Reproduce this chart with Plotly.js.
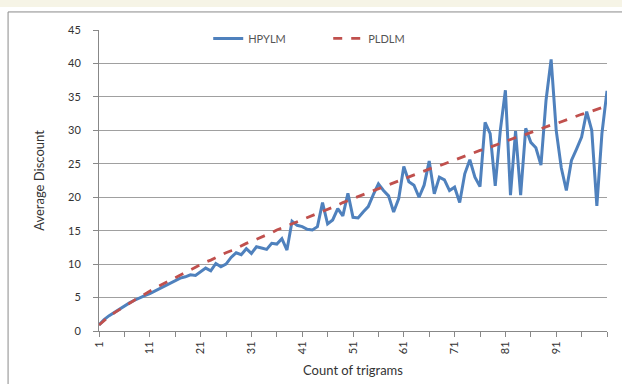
<!DOCTYPE html>
<html><head><meta charset="utf-8">
<script src="https://cdn.plot.ly/plotly-3.0.1.min.js"></script>
<style>html,body{margin:0;padding:0;background:#fff;}#chart{width:622px;height:384px;}</style>
</head><body><div id="chart"></div>
<script>
// Count of trigrams (categories 1..101)
const counts = [];
for (let i = 1; i <= 101; i++) counts.push(i);

const hpylm = [
 0.9,1.7,2.3,2.8,3.3,3.8,4.2,4.6,5.0,5.3,
 5.6,6.0,6.4,6.7,7.1,7.5,7.9,8.1,8.4,8.3,
 8.9,9.4,9.0,10.1,9.6,10.0,11.0,11.7,11.4,12.3,
 11.6,12.6,12.4,12.2,13.1,13.0,13.8,12.1,16.4,15.8,
 15.6,15.2,15.1,15.6,19.2,16.0,16.6,18.3,17.2,20.6,
 17.0,16.9,17.8,18.6,20.4,22.0,21.0,20.2,17.8,19.8,
 24.6,22.3,21.8,20.0,21.8,25.4,20.5,23.0,22.6,21.0,
 21.5,19.2,23.5,25.6,23.0,21.6,31.2,29.5,21.7,30.0,
 36.0,20.3,29.9,20.3,30.3,28.2,27.4,24.8,34.5,40.6,
 30.0,24.4,21.0,25.5,27.2,29.0,32.8,30.0,18.7,29.5,
 35.9
];

const pldlm = [
 0.9,1.6,2.2,2.7,3.2,3.7,4.2,4.7,5.1,5.5,
 6.0,6.4,6.8,7.2,7.6,8.0,8.4,8.8,9.1,9.5,
 9.9,10.3,10.6,11.0,11.3,11.7,12.0,12.4,12.7,13.1,
 13.4,13.7,14.1,14.4,14.7,15.1,15.4,15.7,16.0,16.4,
 16.7,17.0,17.3,17.6,17.9,18.2,18.5,18.8,19.2,19.5,
 19.8,20.1,20.4,20.7,21.0,21.3,21.6,21.8,22.1,22.4,
 22.7,23.0,23.3,23.6,23.9,24.2,24.5,24.7,25.0,25.3,
 25.6,25.9,26.1,26.4,26.7,27.0,27.2,27.5,27.8,28.1,
 28.3,28.6,28.9,29.2,29.4,29.7,30.0,30.2,30.5,30.8,
 31.0,31.3,31.6,31.8,32.1,32.4,32.6,32.9,33.1,33.4,
 33.6
];

const xTickVals = [1,11,21,31,41,51,61,71,81,91];
const xTickText = ["1","11","21","31","41","51","61","71","81","91"];
const yTickVals = [0,5,10,15,20,25,30,35,40,45];

const font = "Lato, 'Open Sans', 'DejaVu Sans', sans-serif";

const traces = [
 {x: counts, y: hpylm, name: "HPYLM", type: "scatter", mode: "lines",
  line: {color: "#4f81bd", width: 3}},
 {x: counts, y: pldlm, name: "PLDLM", type: "scatter", mode: "lines",
  line: {color: "#c0504d", width: 2.8, dash: "dash"}}
];

const layout = {
 width: 622, height: 384,
 margin: {l: 99, r: 15, t: 30, b: 53},
 paper_bgcolor: "#ffffff", plot_bgcolor: "#ffffff",
 font: {family: font, size: 11, color: "#333"},
 showlegend: true,
 legend: {orientation: "h", x: 0.215, y: 0.972, xanchor: "left", yanchor: "middle",
   entrywidth: 75, entrywidthmode: "pixels",
   bgcolor: "rgba(0,0,0,0)", font: {size: 11, color: "#555"}, tracegroupgap: 0},
 xaxis: {
   range: [1, 101], tickmode: "array", tickvals: xTickVals, ticktext: xTickText,
   tickangle: -90, ticks: "outside", ticklen: 5, tickcolor: "#888",
   minor: {tickmode: "linear", tick0: 1, dtick: 5, ticks: "outside", ticklen: 5, tickcolor: "#888", showgrid: false},
   showgrid: false, zeroline: false, showline: true, linecolor: "#888", linewidth: 1,
   tickfont: {size: 11, color: "#333"},
   title: {text: "Count of trigrams", font: {size: 13, color: "#333"}, standoff: 12}
 },
 yaxis: {
   range: [0, 45], tickmode: "array", tickvals: yTickVals,
   ticks: "outside", ticklen: 5, tickcolor: "#888",
   showgrid: true, gridcolor: "#a0a0a0", gridwidth: 1,
   zeroline: false, showline: true, linecolor: "#888", linewidth: 1,
   tickfont: {size: 11, color: "#333"}, ticklabelstandoff: 10,
   title: {text: "Average Discount", font: {size: 13, color: "#333"}, standoff: 20}
 },
 shapes: [
   {type: "rect", xref: "paper", yref: "paper", x0: -0.2, x1: 1.04, y0: 1.076, y1: 1.11,
    fillcolor: "#f6f4e6", line: {width: 0}, layer: "below"},
   {type: "line", xref: "paper", yref: "paper", x0: -0.179, x1: 1.04, y0: 1.06, y1: 1.06,
    line: {color: "#8a8a8a", width: 1}},
   {type: "line", xref: "paper", yref: "paper", x0: -0.179, x1: -0.179, y0: 1.06, y1: -0.2,
    line: {color: "#8a8a8a", width: 1}}
 ]
};

Plotly.newPlot("chart", traces, layout, {displayModeBar: false, staticPlot: true});
</script>
</body></html>
